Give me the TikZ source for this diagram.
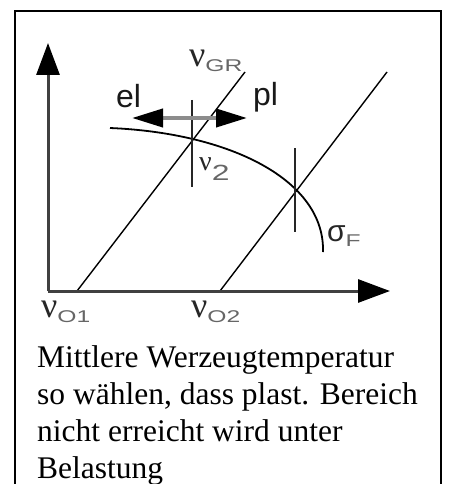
\documentclass[tikz,border=0pt]{standalone}
\usepackage{fontspec}
\usepackage{graphicx}
\setmainfont{Liberation Serif}
\setsansfont{Liberation Sans}
\usetikzlibrary{arrows.meta, positioning}
\tikzstyle{frameline} = [line width=2pt, draw=black]
\tikzstyle{axisline} = [line width=3pt, draw=black!75, -{Triangle[length=32pt,width=23pt,color=black]}]
\tikzstyle{thinline} = [line width=1.4pt, draw=black]
\tikzstyle{tickline} = [line width=2pt, draw=black!85]
\tikzstyle{rangearrow} = [line width=4pt, draw=black!45, {Triangle[length=31pt,width=18pt,color=black]}-{Triangle[length=31pt,width=18pt,color=black]}]
\tikzstyle{lab} = [anchor=base west, inner sep=0pt, text=black!85]
\tikzstyle{zonelab} = [anchor=base west, inner sep=0pt, font=\sffamily\fontsize{32}{32}\selectfont, text=black!90]
\newcommand{\symsub}[3]{\fontsize{#3}{#3}\selectfont #1{\sffamily\fontsize{17}{17}\selectfont\color{black!60}\raisebox{-5pt}{\scalebox{1.45}[1]{#2}}}}

\begin{document}
\begin{tikzpicture}[x=1pt, y=-1pt]
\useasboundingbox (0,0) rectangle (449,484);

% Frame
\draw [frameline] (15,484) -- (15,11) -- (441,11) -- (441,484);

% Points
\coordinate (origin) at (48,291);
\coordinate (ytip) at (48,43);
\coordinate (xtip) at (390,291);
\coordinate (gr1) at (77,291);
\coordinate (gr1end) at (245,72);
\coordinate (gr2) at (220,291);
\coordinate (gr2end) at (387,72);
\coordinate (sigstart) at (110,128);
\coordinate (sigend) at (323,252);
\coordinate (tick1top) at (192,100);
\coordinate (tick1bot) at (192,187);
\coordinate (tick2top) at (295,148);
\coordinate (tick2bot) at (295,232);
\coordinate (elend) at (132,118);
\coordinate (plend) at (247,118);

% Lines
\draw [thinline] (gr1) -- (gr1end);
\draw [thinline] (gr2) -- (gr2end);
\draw [line width=1.8pt] (sigstart) .. controls (230,133) and (325,180) .. (sigend);
\draw [tickline] (tick1top) -- (tick1bot);
\draw [tickline] (tick2top) -- (tick2bot);
\draw [rangearrow] (elend) -- (plend);

% Axes
\draw [axisline] (origin) -- (ytip);
\draw [axisline] (origin) -- (xtip);

% Labels
\node (el) [zonelab] at (116,107) {el};
\node (pl) [zonelab] at (253,106) {pl};
\node (vgr) [lab] at (189,67) {\symsub{ν}{GR}{36}};
\node (v2) [lab] at (199,170) {\symsub{ν}{\raisebox{-5pt}{\fontsize{22}{22}\selectfont 2}}{28}};
\node (sigf) [lab] at (327,241) {\symsub{\sffamily σ}{F}{30}};
\node (v01) [lab] at (41,317) {\symsub{ν}{O1}{36}};
\node (v02) [lab] at (191,317) {\symsub{ν}{O2}{36}};

% Caption
\node (caption) [anchor=north west, inner sep=0pt, align=left, font=\fontsize{31.5}{37}\selectfont] at (37,345) {Mittlere Werzeugtemperatur\\so wählen, dass plast. Bereich\\nicht erreicht wird unter\\Belastung};

\end{tikzpicture}
\end{document}
